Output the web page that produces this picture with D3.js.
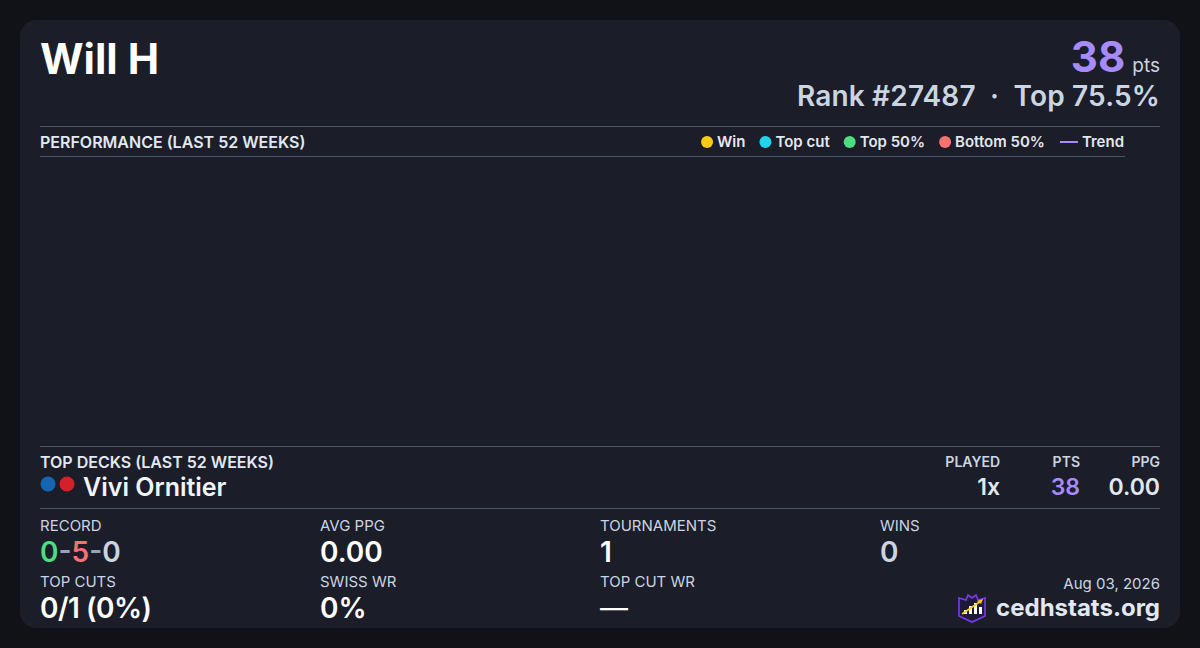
<!DOCTYPE html>
<html><head><meta charset="utf-8">
<script src="https://cdn.jsdelivr.net/npm/d3@7"></script>
<style>
html,body{margin:0;padding:0;background:#111217;}
svg{display:block;font-family:Inter,"Noto Sans",sans-serif;}
</style></head>
<body>
<svg id="c" width="1200" height="648"></svg>
<script>
// ---- data ----
const playerName = "Will H";
const totalPts = "38";
const rankText = "Rank #27487  ·  Top 75.5%";
const legendLabels = ["Win", "Top cut", "Top 50%", "Bottom 50%", "Trend"];
const legendColors = ["#facc15", "#22d3ee", "#4ade80", "#f87171", "#a78bfa"];
const weeks = [];          // no tournaments plotted in last 52 weeks
const weeklyPoints = [];   // empty series
const deckName = "Vivi Ornitier";
const deckColors = ["#1565b0", "#d3202a"];
const deckHeaders = ["PLAYED", "PTS", "PPG"];
const deckValues = ["1x", "38", "0.00"];
const statLabels = ["RECORD", "AVG PPG", "TOURNAMENTS", "WINS", "TOP CUTS", "SWISS WR", "TOP CUT WR"];
const statValues = ["0-5-0", "0.00", "1", "0", "0/1 (0%)", "0%", "—"];
const dateText = "Aug 03, 2026";
const siteText = "cedhstats.org";

const svg = d3.select("#c");
const L = 40, R = 1160;

svg.append("rect").attr("x", 20).attr("y", 20).attr("width", 1160).attr("height", 608)
  .attr("rx", 16).attr("fill", "#1b1d29");

// header
svg.append("text").attr("x", L).attr("y", 74).attr("fill", "#ffffff")
  .attr("font-size", 42).attr("font-weight", 700).text(playerName);
const pts = svg.append("text").attr("x", R).attr("y", 72).attr("text-anchor", "end");
pts.append("tspan").attr("fill", "#a78bfa").attr("font-size", 42).attr("font-weight", 700).text(totalPts);
pts.append("tspan").attr("fill", "#cbd5e1").attr("font-size", 19).attr("dx", 7).text("pts");
svg.append("text").attr("x", R).attr("y", 106).attr("text-anchor", "end").attr("fill", "#cbd5e1")
  .attr("font-size", 28).attr("font-weight", 600).attr("letter-spacing", 0.15).style("white-space", "pre").text(rankText);

const line = (x1, x2, y) => svg.append("line").attr("x1", x1).attr("x2", x2).attr("y1", y + 0.5).attr("y2", y + 0.5)
  .attr("stroke", "#475569").attr("stroke-width", 1);
line(L, R, 126);
line(L, 1125, 156);
line(L, R, 446);
line(L, R, 508);

svg.append("text").attr("x", L).attr("y", 148).attr("fill", "#e2e8f0").attr("font-size", 16)
  .attr("font-weight", 600).text("PERFORMANCE (LAST 52 WEEKS)");

// legend, laid out right to left ending at 1124
const lg = svg.append("g");
let xr = 1124;
for (let i = legendLabels.length - 1; i >= 0; i--) {
  const t = lg.append("text").attr("y", 147).attr("fill", "#e2e8f0").attr("font-size", 15)
    .attr("font-weight", 600).text(legendLabels[i]);
  const w = t.node().getComputedTextLength();
  t.attr("x", xr - w);
  if (legendLabels[i] === "Trend") {
    lg.append("line").attr("x1", xr - w - 22).attr("x2", xr - w - 4).attr("y1", 142).attr("y2", 142)
      .attr("stroke", legendColors[i]).attr("stroke-width", 2);
    xr = xr - w - 22 - 15;
  } else {
    const cx = xr - w - 10;
    lg.append("circle").attr("cx", cx).attr("cy", 142).attr("r", 6).attr("fill", legendColors[i]);
    xr = cx - 20;
  }
}

// chart area (empty)
const x = d3.scaleLinear().domain([0, 51]).range([L + 10, 1115]);
const y = d3.scaleLinear().domain([0, 100]).range([436, 166]);
const plot = svg.append("g");
plot.selectAll("circle.pt").data(weeklyPoints).join("circle").attr("class", "pt")
  .attr("cx", (d, i) => x(weeks[i])).attr("cy", d => y(d)).attr("r", 5);
if (weeklyPoints.length > 1) {
  plot.append("path").datum(weeklyPoints).attr("fill", "none").attr("stroke", "#a78bfa")
    .attr("d", d3.line().x((d, i) => x(weeks[i])).y(d => y(d)));
}

// top decks
svg.append("text").attr("x", L).attr("y", 468).attr("fill", "#e2e8f0").attr("font-size", 16)
  .attr("font-weight", 600).text("TOP DECKS (LAST 52 WEEKS)");
deckColors.forEach((c, i) => svg.append("circle").attr("cx", 48 + i * 19).attr("cy", 484).attr("r", 7.5).attr("fill", c));
svg.append("text").attr("x", 83).attr("y", 496).attr("fill", "#f1f5f9").attr("font-size", 25)
  .attr("font-weight", 600).text(deckName);
const colX = [1000, 1080, 1160];
deckHeaders.forEach((h, i) => {
  svg.append("text").attr("x", colX[i]).attr("y", 467).attr("text-anchor", "end").attr("fill", "#cbd5e1")
    .attr("font-size", 14).attr("font-weight", 600).text(h);
  svg.append("text").attr("x", colX[i]).attr("y", 495).attr("text-anchor", "end")
    .attr("fill", i === 1 ? "#a78bfa" : "#e2e8f0").attr("font-size", 23).attr("font-weight", 600).text(deckValues[i]);
});

// stats grid
const sx = [40, 320, 600, 880, 40, 320, 600];
const sy = [531, 531, 531, 531, 587, 587, 587];
statLabels.forEach((lab, i) => {
  svg.append("text").attr("x", sx[i]).attr("y", sy[i]).attr("fill", "#cbd5e1").attr("font-size", 15).text(lab);
  const v = svg.append("text").attr("x", sx[i]).attr("y", sy[i] + 31).attr("font-size", 28).attr("font-weight", 600);
  if (lab === "RECORD") {
    const p = statValues[i].split("-");
    v.append("tspan").attr("fill", "#4ade80").text(p[0]);
    v.append("tspan").attr("fill", "#94a3b8").text("-");
    v.append("tspan").attr("fill", "#f87171").text(p[1]);
    v.append("tspan").attr("fill", "#94a3b8").text("-");
    v.append("tspan").attr("fill", "#cbd5e1").text(p[2]);
  } else if (lab === "WINS") {
    v.attr("fill", "#cbd5e1").text(statValues[i]);
  } else if (lab === "TOP CUT WR") {
    v.attr("fill", "#ffffff").attr("font-weight", 400).text(statValues[i]);
  } else if (lab === "TOP CUTS") {
    v.attr("fill", "#ffffff").attr("letter-spacing", -0.5).text(statValues[i]);
  } else {
    v.attr("fill", "#ffffff").text(statValues[i]);
  }
});

// footer
svg.append("text").attr("x", R).attr("y", 589).attr("text-anchor", "end").attr("fill", "#cbd5e1")
  .attr("font-size", 15).text(dateText);
svg.append("text").attr("x", R).attr("y", 616).attr("text-anchor", "end").attr("fill", "#e2e8f0")
  .attr("font-size", 24).attr("font-weight", 700).text(siteText);

// logo
const lgo = svg.append("g").attr("transform", "translate(958,594)");
lgo.append("path").attr("d", "M1,4 L8,6 L10,1 L14,4 L18,1 L20,6 L27,4 L27,22 L14,28 L1,22 Z")
  .attr("fill", "#1e1b3a").attr("stroke", "#7c3aed").attr("stroke-width", 1.6);
[[6, 16, 4], [11, 12, 8], [16, 9, 11], [21, 13, 7]].forEach(b =>
  lgo.append("rect").attr("x", b[0]).attr("y", b[1]).attr("width", 3).attr("height", b[2]).attr("fill", "#ffffff"));
lgo.append("line").attr("x1", 4).attr("y1", 20).attr("x2", 23).attr("y2", 7).attr("stroke", "#facc15").attr("stroke-width", 1.6);
lgo.append("path").attr("d", "M25,5 L19,7 L23,10 Z").attr("fill", "#facc15");
</script>
</body></html>
